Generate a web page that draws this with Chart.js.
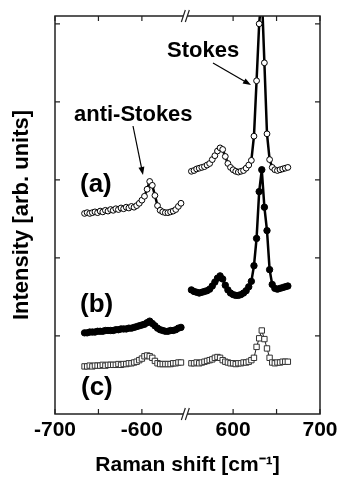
<!DOCTYPE html>
<html>
<head>
<meta charset="utf-8">
<script src="https://cdn.jsdelivr.net/npm/chart.js@4.4.0/dist/chart.umd.min.js"></script>
<style>
  html, body { margin: 0; padding: 0; background: #fff; }
</style>
</head>
<body>
<canvas id="myChart" width="337" height="478"></canvas>
<script>
// Raman shift values (cm-1) for the two halves of the broken axis
const antiShift = [-666, -663, -660, -657, -654, -651, -648, -645, -642, -639, -636, -633, -630, -627, -624, -621, -618, -615, -612, -609, -606, -603, -600, -597, -594, -591, -588, -585, -582, -579, -576, -573, -570, -567, -564, -561, -558, -555];
const stokesShift = [552, 555, 558, 561, 564, 567, 570, 573, 576, 579, 582, 585, 588, 591, 594, 597, 600, 603, 606, 609, 612, 615, 618, 621, 624, 627, 630, 633, 636, 639, 642, 645, 648, 651, 654, 657, 660, 663];

// intensities (arb. units, offset per spectrum)
const antiA = [2.57, 2.58, 2.57, 2.58, 2.59, 2.58, 2.60, 2.59, 2.61, 2.60, 2.62, 2.61, 2.63, 2.62, 2.64, 2.63, 2.65, 2.64, 2.66, 2.65, 2.67, 2.70, 2.74, 2.79, 2.88, 2.98, 2.93, 2.80, 2.67, 2.61, 2.59, 2.58, 2.58, 2.59, 2.60, 2.62, 2.66, 2.70];
const stokesA = [3.11, 3.12, 3.14, 3.15, 3.16, 3.17, 3.19, 3.21, 3.26, 3.31, 3.37, 3.41, 3.39, 3.30, 3.21, 3.16, 3.13, 3.11, 3.10, 3.11, 3.12, 3.15, 3.19, 3.25, 3.56, 4.27, 5.00, 5.40, 4.50, 3.59, 3.26, 3.16, 3.13, 3.12, 3.13, 3.14, 3.15, 3.16];
const antiB = [1.04, 1.04, 1.05, 1.05, 1.05, 1.06, 1.06, 1.06, 1.07, 1.07, 1.07, 1.07, 1.08, 1.08, 1.09, 1.09, 1.09, 1.10, 1.10, 1.11, 1.12, 1.13, 1.14, 1.15, 1.17, 1.19, 1.16, 1.13, 1.10, 1.08, 1.07, 1.06, 1.06, 1.07, 1.07, 1.08, 1.10, 1.11];
const stokesB = [1.59, 1.57, 1.56, 1.55, 1.56, 1.57, 1.58, 1.60, 1.64, 1.69, 1.74, 1.77, 1.73, 1.65, 1.59, 1.55, 1.53, 1.52, 1.52, 1.53, 1.55, 1.58, 1.63, 1.70, 1.90, 2.25, 2.85, 3.13, 2.65, 2.35, 1.85, 1.66, 1.61, 1.60, 1.61, 1.62, 1.63, 1.64];
const antiC = [0.61, 0.61, 0.62, 0.61, 0.62, 0.62, 0.62, 0.63, 0.62, 0.63, 0.63, 0.63, 0.63, 0.64, 0.63, 0.64, 0.64, 0.65, 0.65, 0.66, 0.67, 0.69, 0.71, 0.74, 0.75, 0.74, 0.72, 0.68, 0.65, 0.64, 0.64, 0.64, 0.64, 0.64, 0.65, 0.65, 0.66, 0.66];
const stokesC = [0.65, 0.65, 0.66, 0.65, 0.66, 0.67, 0.68, 0.69, 0.70, 0.72, 0.73, 0.72, 0.69, 0.67, 0.66, 0.65, 0.65, 0.64, 0.65, 0.65, 0.66, 0.66, 0.67, 0.69, 0.72, 0.86, 0.97, 1.07, 0.96, 0.84, 0.72, 0.66, 0.65, 0.66, 0.66, 0.67, 0.67, 0.67];

// axis ticks
const tickShifts = [-700, -600, 600, 700];
const tickLabels = ['-700', '-600', '600', '700'];
const markShifts = [-700, -650, -600, 600, 650, 700];
const yTickValues = [1, 2, 3, 4, 5];

// broken axis: -700..-550 then 545..700 on one linear scale
const AXIS_MIN = -700, BREAK_LO = -550, BREAK_HI = 545, AXIS_MAX = 700;
function toAxis(s) {
    return s < 0 ? s - AXIS_MIN : s - BREAK_HI + (BREAK_LO - AXIS_MIN);
}
function pts(shifts, vals) {
    return shifts.map((s, i) => ({ x: toAxis(s), y: vals[i] }));
}

const FONT = '"Liberation Sans", Arial, Helvetica, sans-serif';

const styleA = { borderColor: '#000', borderWidth: 2.5, pointStyle: 'circle', pointRadius: 2.9, pointBackgroundColor: '#fff', pointBorderColor: '#000', pointBorderWidth: 1 };
const styleB = { borderColor: '#000', borderWidth: 2.5, pointStyle: 'circle', pointRadius: 3.2, pointBackgroundColor: '#000', pointBorderColor: '#000', pointBorderWidth: 1 };
const styleC = { borderColor: '#222', borderWidth: 1, pointStyle: 'rect', pointRadius: 3.8, pointBackgroundColor: '#fff', pointBorderColor: '#333', pointBorderWidth: 1 };

const decorations = {
    id: 'decorations',
    afterDatasetsDraw(chart) {
        const { ctx, chartArea: a, scales: { x, y } } = chart;
        ctx.save();
        ctx.strokeStyle = '#222';
        ctx.lineWidth = 1.5;
        ctx.strokeRect(a.left, a.top, a.right - a.left, a.bottom - a.top);

        ctx.lineWidth = 1.2;
        ctx.beginPath();
        markShifts.forEach(s => {
            const px = x.getPixelForValue(toAxis(s));
            ctx.moveTo(px, a.top); ctx.lineTo(px, a.top + 5);
            ctx.moveTo(px, a.bottom); ctx.lineTo(px, a.bottom - 5);
        });
        yTickValues.forEach(v => {
            const py = y.getPixelForValue(v);
            ctx.moveTo(a.left, py); ctx.lineTo(a.left + 5, py);
            ctx.moveTo(a.right, py); ctx.lineTo(a.right - 5, py);
        });
        ctx.stroke();

        // axis break marks
        const bx = x.getPixelForValue(toAxis(BREAK_LO));
        [a.top, a.bottom].forEach(by => {
            ctx.fillStyle = '#fff';
            ctx.beginPath();
            ctx.moveTo(bx - 4, by + 6); ctx.lineTo(bx, by - 6);
            ctx.lineTo(bx + 4, by - 6); ctx.lineTo(bx, by + 6);
            ctx.closePath();
            ctx.fill();
            ctx.beginPath();
            ctx.moveTo(bx - 4, by + 6); ctx.lineTo(bx, by - 6);
            ctx.moveTo(bx, by + 6); ctx.lineTo(bx + 4, by - 6);
            ctx.stroke();
        });
        ctx.restore();
    },
    afterDraw(chart) {
        const ctx = chart.ctx;
        ctx.save();
        ctx.fillStyle = '#000';
        ctx.textBaseline = 'alphabetic';
        ctx.textAlign = 'left';
        ctx.font = 'bold 22px ' + FONT;
        ctx.fillText('Stokes', 167, 57);
        ctx.fillText('anti-Stokes', 74, 121);
        ctx.font = 'bold 26px ' + FONT;
        ctx.fillText('(a)', 80, 192);
        ctx.fillText('(b)', 80, 312);
        ctx.fillText('(c)', 81, 395);

        function arrow(x1, y1, x2, y2) {
            const ang = Math.atan2(y2 - y1, x2 - x1);
            ctx.strokeStyle = '#000';
            ctx.lineWidth = 1.2;
            ctx.beginPath();
            ctx.moveTo(x1, y1); ctx.lineTo(x2 - 5 * Math.cos(ang), y2 - 5 * Math.sin(ang));
            ctx.stroke();
            ctx.beginPath();
            ctx.moveTo(x2, y2);
            ctx.lineTo(x2 - 8 * Math.cos(ang) + 3 * Math.sin(ang), y2 - 8 * Math.sin(ang) - 3 * Math.cos(ang));
            ctx.lineTo(x2 - 8 * Math.cos(ang) - 3 * Math.sin(ang), y2 - 8 * Math.sin(ang) + 3 * Math.cos(ang));
            ctx.closePath();
            ctx.fill();
        }
        arrow(213, 63, 251, 85);
        arrow(133, 126, 143, 175);
        ctx.restore();
    }
};

const ctx = document.getElementById('myChart').getContext('2d');
const myChart = new Chart(ctx, {
    type: 'line',
    data: {
        datasets: [
            { label: '(a) anti-Stokes', data: pts(antiShift, antiA), ...styleA },
            { label: '(a) Stokes', data: pts(stokesShift, stokesA), ...styleA },
            { label: '(b) anti-Stokes', data: pts(antiShift, antiB), ...styleB },
            { label: '(b) Stokes', data: pts(stokesShift, stokesB), ...styleB },
            { label: '(c) anti-Stokes', data: pts(antiShift, antiC), ...styleC },
            { label: '(c) Stokes', data: pts(stokesShift, stokesC), ...styleC }
        ]
    },
    options: {
        responsive: false,
        devicePixelRatio: 1,
        animation: false,
        layout: { padding: { top: 16, right: 17, left: 0, bottom: 0 } },
        elements: { line: { tension: 0 } },
        plugins: { legend: { display: false }, tooltip: { enabled: false } },
        scales: {
            x: {
                type: 'linear',
                min: 0,
                max: toAxis(AXIS_MAX),
                grid: { display: false, drawTicks: false },
                border: { display: false },
                afterBuildTicks: s => { s.ticks = tickShifts.map(v => ({ value: toAxis(v) })); },
                afterFit: s => { s.height = 64; s.paddingLeft = 0; s.paddingRight = 0; },
                ticks: {
                    autoSkip: false,
                    maxRotation: 0,
                    padding: 4,
                    color: '#000',
                    font: { family: FONT, size: 21, weight: 'bold' },
                    callback: (v, i) => tickLabels[i]
                },
                title: {
                    display: true,
                    text: 'Raman shift [cm\u207B\u00B9]',
                    color: '#000',
                    padding: { top: 0, bottom: 0 },
                    font: { family: FONT, size: 21, weight: 'bold' }
                }
            },
            y: {
                min: 0,
                max: 5.1,
                grid: { display: false, drawTicks: false },
                border: { display: false },
                ticks: { display: false },
                afterFit: s => { s.width = 55; },
                title: {
                    display: true,
                    text: 'Intensity [arb. units]',
                    color: '#000',
                    padding: { top: 9, bottom: 4 },
                    font: { family: FONT, size: 22, weight: 'bold' }
                }
            }
        }
    },
    plugins: [decorations]
});
</script>
</body>
</html>
